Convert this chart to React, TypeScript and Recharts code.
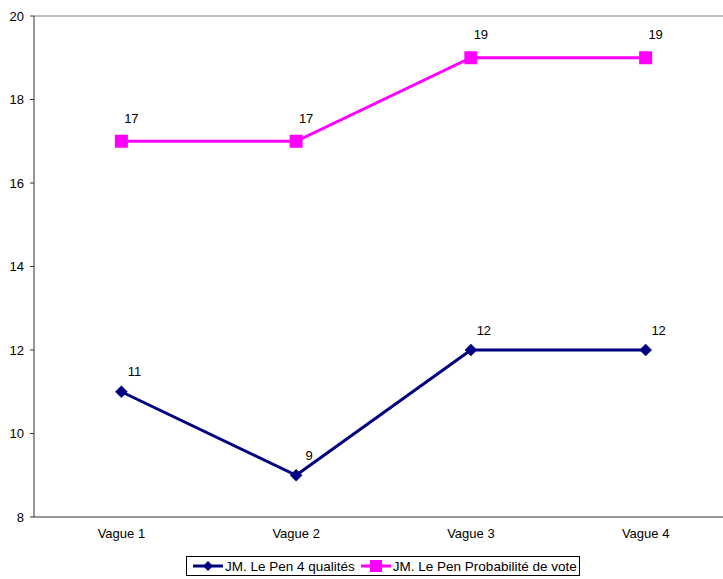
import React from "react";
import { LineChart, Line, XAxis, YAxis, ReferenceLine } from "recharts";

const categories = ["Vague 1", "Vague 2", "Vague 3", "Vague 4"];
const qualites = [11, 9, 12, 12];
const probabilite = [17, 17, 19, 19];
const yTicks = [8, 10, 12, 14, 16, 18, 20];
const seriesNames = ["JM. Le Pen 4 qualités", "JM. Le Pen Probabilité de vote"];

const data = categories.map((c, i) => ({ name: c, q: qualites[i], p: probabilite[i] }));

const NAVY = "#000080";
const MAGENTA = "#FF00FF";
const FONT = "'Liberation Sans', Arial, sans-serif";

const Diamond = (props: any) => {
  const { cx, cy } = props;
  if (cx == null || cy == null) return null;
  const r = 6;
  return <path d={`M${cx},${cy - r}L${cx + r},${cy}L${cx},${cy + r}L${cx - r},${cy}Z`} fill={NAVY} stroke={NAVY} strokeWidth={0.5} />;
};

const Square = (props: any) => {
  const { cx, cy } = props;
  if (cx == null || cy == null) return null;
  const r = 6.5;
  return <rect x={cx - r} y={cy - r} width={2 * r} height={2 * r} fill={MAGENTA} />;
};

const makeLabel = (dx: number, dy: number) => (props: any) => {
  const { x, y, value } = props;
  return (
    <text x={x + dx} y={y + dy} textAnchor="middle" dominantBaseline="central" fontSize={13} fontFamily={FONT} fill="#000">
      {value}
    </text>
  );
};

const LegendBox = () => (
  <div
    style={{
      position: "absolute",
      left: 186,
      top: 556,
      width: 394,
      height: 20,
      border: "1px solid #000",
      boxSizing: "border-box",
      display: "flex",
      alignItems: "center",
      fontFamily: FONT,
      fontSize: 13.5,
      whiteSpace: "nowrap",
      background: "#fff",
    }}
  >
    <svg width={32} height={14} style={{ marginLeft: 5 }}>
      <line x1={1} y1={7} x2={31} y2={7} stroke={NAVY} strokeWidth={3} />
      <path d="M16,2L21,7L16,12L11,7Z" fill={NAVY} />
    </svg>
    <span style={{ marginLeft: 1 }}>{seriesNames[0]}</span>
    <svg width={32} height={14} style={{ marginLeft: 5 }}>
      <line x1={1} y1={7} x2={31} y2={7} stroke={MAGENTA} strokeWidth={3} />
      <rect x={10} y={1} width={12} height={12} fill={MAGENTA} />
    </svg>
    <span style={{ marginLeft: 1 }}>{seriesNames[1]}</span>
  </div>
);

export default function App() {
  return (
    <div style={{ position: "fixed", left: 0, top: 0, width: 723, height: 579, overflow: "hidden", background: "#fff" }}>
      <LineChart width={740} height={579} data={data} margin={{ top: 16, right: 7, bottom: 32, left: 0 }}>
        <ReferenceLine y={20} stroke="#808080" strokeWidth={1} />
        <XAxis
          dataKey="name"
          scale="band"
          stroke="#333"
          tickLine={false}
          tickSize={0}
          tickMargin={12}
          height={30}
          tick={{ fontSize: 13, fontFamily: FONT, fill: "#000" }}
        />
        <YAxis
          domain={[8, 20]}
          ticks={yTicks}
          width={34}
          stroke="#333"
          tickSize={4}
          tickMargin={6}
          interval={0}
          tick={{ fontSize: 13, fontFamily: FONT, fill: "#000" }}
        />
        <Line
          dataKey="q"
          stroke={NAVY}
          strokeWidth={3}
          dot={<Diamond />}
          activeDot={false}
          isAnimationActive={false}
          label={makeLabel(13, -20)}
        />
        <Line
          dataKey="p"
          stroke={MAGENTA}
          strokeWidth={3}
          dot={<Square />}
          activeDot={false}
          isAnimationActive={false}
          label={makeLabel(10, -23)}
        />
      </LineChart>
      <LegendBox />
    </div>
  );
}
